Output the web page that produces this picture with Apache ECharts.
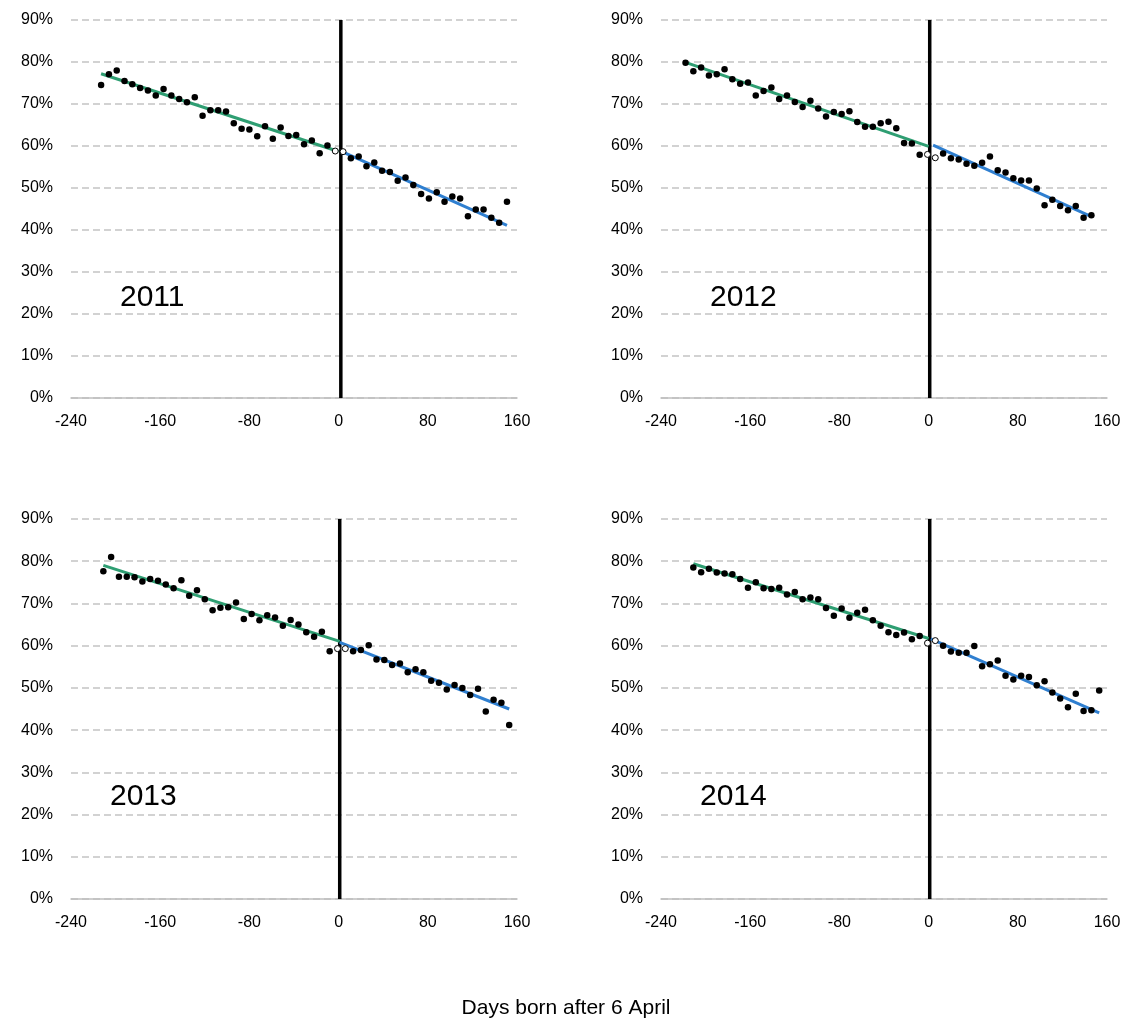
<!DOCTYPE html>
<html>
<head>
<meta charset="utf-8">
<script src="https://cdn.jsdelivr.net/npm/echarts@6/dist/echarts.min.js"></script>
<style>html,body{margin:0;padding:0;background:#fff}#c{width:1132px;height:1030px}</style>
</head>
<body>
<div id="c"></div>
<script>
// ---- Data ----
const years = ['2011', '2012', '2013', '2014'];
const xTicks = [-240, -160, -80, 0, 80, 160];

// 2011
const x2011Before = [-213,-206,-199,-192,-185,-178,-171,-164,-157,-150,-143,-136,-129,-122,-115,-108,-101,-94,-87,-80,-73,-66,-59,-52,-45,-38,-31,-24,-17,-10];
const y2011Before = [74.5,77.1,78.0,75.5,74.7,73.8,73.2,72.0,73.6,72.0,71.2,70.4,71.6,67.2,68.5,68.5,68.2,65.4,64.1,63.9,62.3,64.7,61.7,64.4,62.4,62.6,60.4,61.3,58.3,60.1];
const x2011Hollow = [-3, 4];
const y2011Hollow = [58.8, 58.65];
const x2011After = [11,18,25,32,39,46,53,60,67,74,81,88,95,102,109,116,123,130,137,144,151];
const y2011After = [57.1,57.5,55.2,56.1,54.1,53.8,51.7,52.5,50.7,48.6,47.5,49.0,46.7,48.0,47.5,43.3,44.9,44.9,42.9,41.7,46.7];
const fit2011Before = [[-213, 77.2], [0, 58.7]];
const fit2011After = [[2, 58.8], [151, 41.1]];
const cut2011 = 2;

// 2012
const x2012Before = [-218,-211,-204,-197,-190,-183,-176,-169,-162,-155,-148,-141,-134,-127,-120,-113,-106,-99,-92,-85,-78,-71,-64,-57,-50,-43,-36,-29,-22,-15,-8];
const y2012Before = [79.8,77.8,78.7,76.8,77.1,78.3,75.9,74.8,75.1,72.0,73.1,73.9,71.2,72.0,70.5,69.3,70.8,68.9,67.0,68.1,67.6,68.3,65.7,64.6,64.6,65.4,65.8,64.2,60.7,60.6,57.9];
const x2012Hollow = [-1, 6];
const y2012Hollow = [58.0, 57.2];
const x2012After = [13,20,27,34,41,48,55,62,69,76,83,90,97,104,111,118,125,132,139,146];
const y2012After = [58.2,57.1,56.8,55.8,55.3,56.0,57.5,54.2,53.7,52.3,51.8,51.8,49.9,45.9,47.2,45.7,44.7,45.7,42.9,43.5];
const fit2012Before = [[-218, 79.9], [0, 59.9]];
const fit2012After = [[4, 60.2], [146, 43.2]];
const cut2012 = 1;

// 2013
const x2013Before = [-211,-204,-197,-190,-183,-176,-169,-162,-155,-148,-141,-134,-127,-120,-113,-106,-99,-92,-85,-78,-71,-64,-57,-50,-43,-36,-29,-22,-15,-8];
const y2013Before = [77.6,81.0,76.3,76.3,76.2,75.2,75.8,75.4,74.5,73.6,75.5,71.8,73.1,71.0,68.4,69.0,69.1,70.2,66.3,67.5,66.0,67.2,66.7,64.7,66.1,65.0,63.2,62.1,63.3,58.7];
const x2013Hollow = [-1, 6];
const y2013Hollow = [59.3, 59.3];
const x2013After = [13,20,27,34,41,48,55,62,69,76,83,90,97,104,111,118,125,132,139,146,153];
const y2013After = [58.65,59.0,60.1,56.7,56.6,55.4,55.8,53.7,54.4,53.7,51.7,51.2,49.6,50.7,50.0,48.3,49.8,44.4,47.2,46.5,41.2];
const fit2013Before = [[-211, 79.0], [1, 61.0]];
const fit2013After = [[1, 60.8], [153, 45.0]];
const cut2013 = 1;

// 2014
const x2014Before = [-211,-204,-197,-190,-183,-176,-169,-162,-155,-148,-141,-134,-127,-120,-113,-106,-99,-92,-85,-78,-71,-64,-57,-50,-43,-36,-29,-22,-15,-8];
const y2014Before = [78.5,77.4,78.2,77.3,77.1,76.9,75.8,73.7,75.0,73.6,73.4,73.7,72.1,72.7,71.0,71.4,71.0,68.9,67.1,68.8,66.6,67.8,68.5,66.0,64.7,63.2,62.5,63.1,61.5,62.3];
const x2014Hollow = [-1, 6];
const y2014Hollow = [60.6, 61.2];
const x2014After = [13,20,27,34,41,48,55,62,69,76,83,90,97,104,111,118,125,132,139,146,153];
const y2014After = [60.0,58.6,58.3,58.3,59.9,55.1,55.6,56.5,52.9,52.0,52.9,52.6,50.6,51.6,48.9,47.5,45.4,48.6,44.5,44.7,49.4];
const fit2014Before = [[-211, 79.4], [0, 61.7]];
const fit2014After = [[2, 61.6], [153, 44.1]];
const cut2014 = 1;

const xTitle = 'Days born after 6 April';

// ---- Build ----
const panels = [
  {xb:x2011Before,yb:y2011Before,xh:x2011Hollow,yh:y2011Hollow,xa:x2011After,ya:y2011After,fb:fit2011Before,fa:fit2011After,cut:cut2011},
  {xb:x2012Before,yb:y2012Before,xh:x2012Hollow,yh:y2012Hollow,xa:x2012After,ya:y2012After,fb:fit2012Before,fa:fit2012After,cut:cut2012},
  {xb:x2013Before,yb:y2013Before,xh:x2013Hollow,yh:y2013Hollow,xa:x2013After,ya:y2013After,fb:fit2013Before,fa:fit2013After,cut:cut2013},
  {xb:x2014Before,yb:y2014Before,xh:x2014Hollow,yh:y2014Hollow,xa:x2014After,ya:y2014After,fb:fit2014Before,fa:fit2014After,cut:cut2014}
];
const zip = (xs, ys) => xs.map((x, i) => [x, ys[i]]);

const gridPos = [
  {left: 71, top: 20, width: 446, height: 378},
  {left: 661, top: 20, width: 446, height: 378},
  {left: 71, top: 519, width: 446, height: 380},
  {left: 661, top: 519, width: 446, height: 380}
];
const FONT = '"Liberation Sans", Arial, sans-serif';
const GREEN = '#2E9E72';
const BLUE = '#2F7FD0';

const grids = [], xAxes = [], yAxes = [], series = [], graphics = [];
panels.forEach((p, k) => {
  grids.push(gridPos[k]);
  xAxes.push({
    type: 'value', gridIndex: k, min: xTicks[0], max: xTicks[xTicks.length - 1], interval: 80,
    axisLine: {show: true, onZero: false, lineStyle: {color: '#BFBFBF', width: 1.5}},
    axisTick: {show: false}, splitLine: {show: false},
    axisLabel: {color: '#000', fontSize: 16, fontFamily: FONT, margin: 16}
  });
  yAxes.push({
    type: 'value', gridIndex: k, min: 0, max: 90, interval: 10,
    axisLine: {show: false}, axisTick: {show: false},
    splitLine: {show: true, lineStyle: {color: '#C3C3C3', width: 1.5, type: [7, 4]}},
    axisLabel: {color: '#000', fontSize: 16, fontFamily: FONT, margin: 18, formatter: '{value}%'}
  });
  series.push({
    type: 'line', xAxisIndex: k, yAxisIndex: k, data: [[p.cut, 0], [p.cut, 90]],
    symbol: 'none', lineStyle: {color: '#000', width: 3.5}, silent: true, z: 2
  });
  series.push({
    type: 'line', xAxisIndex: k, yAxisIndex: k, data: p.fb,
    symbol: 'none', lineStyle: {color: GREEN, width: 3}, silent: true, z: 3
  });
  series.push({
    type: 'line', xAxisIndex: k, yAxisIndex: k, data: p.fa,
    symbol: 'none', lineStyle: {color: BLUE, width: 3}, silent: true, z: 3
  });
  series.push({
    type: 'scatter', xAxisIndex: k, yAxisIndex: k, data: zip(p.xb, p.yb).concat(zip(p.xa, p.ya)),
    symbol: 'circle', symbolSize: 6.5, itemStyle: {color: '#000', opacity: 1}, z: 4
  });
  series.push({
    type: 'scatter', xAxisIndex: k, yAxisIndex: k, data: zip(p.xh, p.yh),
    symbol: 'circle', symbolSize: 6, itemStyle: {color: '#fff', borderColor: '#000', borderWidth: 1, opacity: 1}, z: 4
  });
  const g = gridPos[k];
  graphics.push({
    type: 'text', left: g.left + (k < 2 ? 49 : 39), top: g.top + 263,
    style: {text: years[k], fontSize: 30, fontFamily: FONT, fill: '#000'}
  });
});
graphics.push({
  type: 'text', left: 'center', top: 998,
  style: {text: xTitle, fontSize: 21, fontFamily: FONT, fill: '#000'}
});

const chart = echarts.init(document.getElementById('c'), null, {renderer: 'canvas'});
chart.setOption({
  animation: false,
  backgroundColor: '#fff',
  grid: grids, xAxis: xAxes, yAxis: yAxes, series: series, graphic: graphics
});
</script>
</body>
</html>
